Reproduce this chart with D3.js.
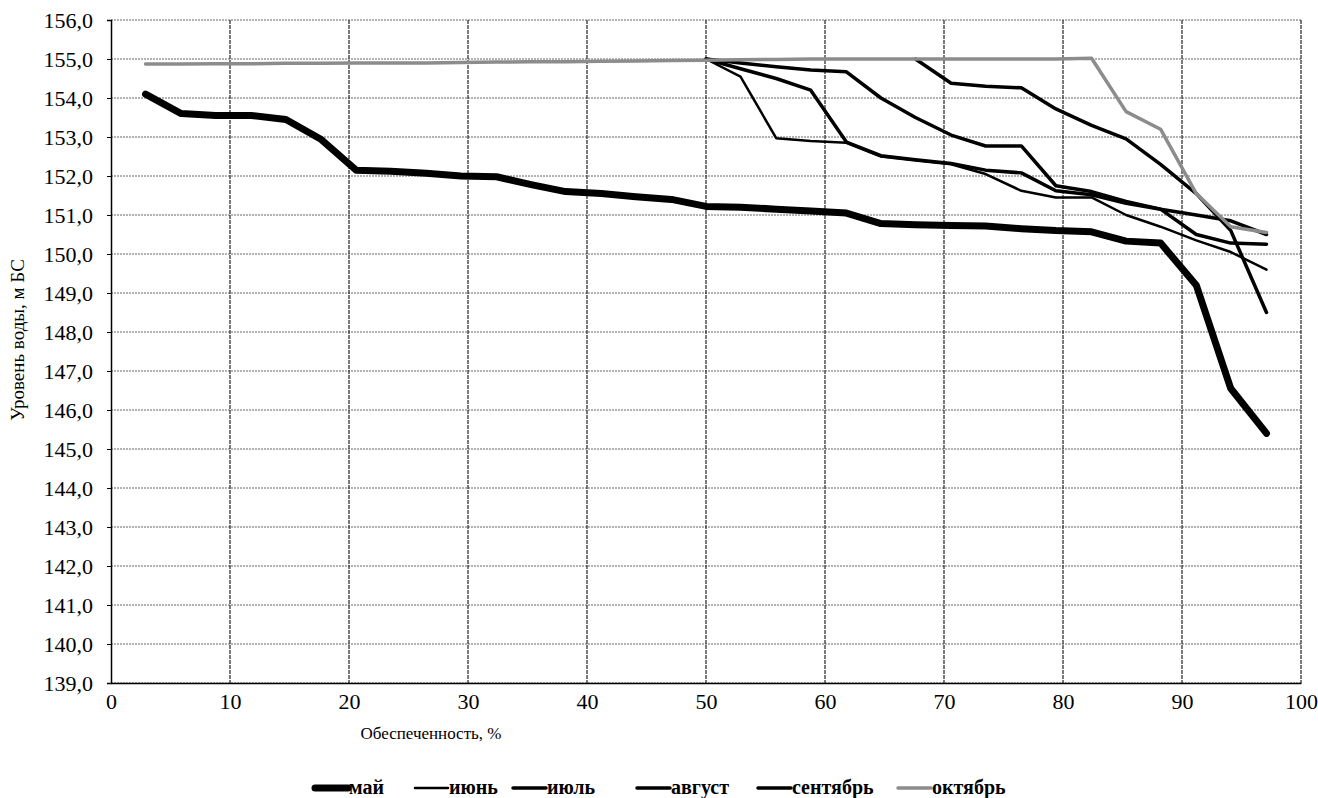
<!DOCTYPE html>
<html>
<head>
<meta charset="utf-8">
<script src="https://cdn.jsdelivr.net/npm/d3@7"></script>
<style>
  html, body { margin: 0; padding: 0; background: #fff; }
  svg { display: block; }
  svg text { font-family: "Liberation Serif", "Times New Roman", Times, serif; fill: #000; }
</style>
</head>
<body>
<div id="chart"></div>
<script>
// Обеспеченность, %
const probs = [2.9, 5.9, 8.8, 11.8, 14.7, 17.6, 20.6, 23.5, 26.5, 29.4, 32.4, 35.3, 38.2, 41.2, 44.1, 47.1,
  50.0, 52.9, 55.9, 58.8, 61.8, 64.7, 67.6, 70.6, 73.5, 76.5, 79.4, 82.4, 85.3, 88.2, 91.2, 94.1, 97.1];

const may = [154.1, 153.6, 153.55, 153.55, 153.45, 152.95, 152.15, 152.12, 152.07, 152.0, 151.98, 151.78, 151.6,
  151.55, 151.47, 151.4, 151.22, 151.2, 151.15, 151.1, 151.05, 150.78, 150.75, 150.73, 150.72, 150.65, 150.6,
  150.57, 150.33, 150.28, 149.2, 146.55, 145.4];

const june = [null, null, null, null, null, null, null, null, null, null, null, null, null, null, null, null,
  155.0, 154.55, 152.97, 152.9, 152.85, 152.5, 152.4, 152.3, 152.05, 151.62, 151.45, 151.45, 151.0, 150.7,
  150.35, 150.05, 149.6];

const july = [null, null, null, null, null, null, null, null, null, null, null, null, null, null, null, null,
  155.0, 154.75, 154.5, 154.2, 152.87, 152.52, 152.42, 152.32, 152.15, 152.08, 151.62, 151.52, 151.3, 151.15,
  150.5, 150.28, 150.25];

const august = [null, null, null, null, null, null, null, null, null, null, null, null, null, null, null, null,
  155.0, 154.9, 154.8, 154.72, 154.67, 154.0, 153.5, 153.05, 152.77, 152.77, 151.75, 151.6, 151.35, 151.15,
  151.0, 150.85, 150.5];

const september = [null, null, null, null, null, null, null, null, null, null, null, null, null, null, null, null,
  null, null, null, null, null, null, 155.0, 154.38, 154.3, 154.26, 153.72, 153.3, 152.95, 152.3, 151.55,
  150.6, 148.5];

const october = [154.87, 154.87, 154.88, 154.88, 154.89, 154.89, 154.9, 154.9, 154.9, 154.91, 154.92, 154.93,
  154.93, 154.94, 154.95, 154.96, 154.97, 154.98, 154.99, 155.0, 155.0, 155.0, 155.0, 155.0, 155.0, 155.0,
  155.0, 155.02, 153.65, 153.2, 151.55, 150.7, 150.55];

const xTicks = [0, 10, 20, 30, 40, 50, 60, 70, 80, 90, 100];
const yTicks = d3.range(139, 157);

const seriesNames = ["май", "июнь", "июль", "август", "сентябрь", "октябрь"];

const series = [
  { name: seriesNames[0], values: may, color: "#000", width: 7 },
  { name: seriesNames[1], values: june, color: "#000", width: 2.5 },
  { name: seriesNames[2], values: july, color: "#000", width: 3.5 },
  { name: seriesNames[3], values: august, color: "#000", width: 3.5 },
  { name: seriesNames[4], values: september, color: "#000", width: 3.5 },
  { name: seriesNames[5], values: october, color: "#8c8c8c", width: 3.5 }
];

const width = 1318;
const height = 798;
const margin = { top: 20, right: 17, bottom: 115, left: 111 };
const innerWidth = width - margin.left - margin.right;
const innerHeight = height - margin.top - margin.bottom;

const svg = d3.select("#chart")
  .append("svg")
  .attr("width", width)
  .attr("height", height);

const g = svg.append("g")
  .attr("transform", `translate(${margin.left},${margin.top})`);

const xScale = d3.scaleLinear().domain([0, 100]).range([0, innerWidth]);
const yScale = d3.scaleLinear().domain([139, 156]).range([innerHeight, 0]);

// Grid
g.append("g")
  .selectAll("line")
  .data(yTicks)
  .join("line")
  .attr("x1", 0)
  .attr("x2", innerWidth)
  .attr("y1", d => yScale(d))
  .attr("y2", d => yScale(d))
  .attr("stroke", "#666")
  .attr("stroke-width", 1)
  .attr("stroke-dasharray", "2,1");

g.append("g")
  .selectAll("line")
  .data(xTicks.slice(1))
  .join("line")
  .attr("x1", d => xScale(d))
  .attr("x2", d => xScale(d))
  .attr("y1", 0)
  .attr("y2", innerHeight)
  .attr("stroke", "#222")
  .attr("stroke-width", 1.2)
  .attr("stroke-dasharray", "4,1");

// Axes
const yAxis = d3.axisLeft(yScale)
  .tickValues(yTicks)
  .tickSize(4)
  .tickFormat(d => d3.format(".1f")(d).replace(".", ","));

g.append("g")
  .call(yAxis)
  .attr("font-family", null)
  .attr("font-size", null)
  .call(ax => ax.select(".domain").attr("stroke", "#000").attr("stroke-width", 1.5))
  .call(ax => ax.selectAll(".tick line").attr("stroke", "#000"))
  .selectAll("text")
  .attr("x", -18)
  .style("font-size", "22px");

const xAxis = d3.axisBottom(xScale)
  .tickValues(xTicks)
  .tickSize(0)
  .tickFormat(d3.format("d"));

g.append("g")
  .attr("transform", `translate(0,${innerHeight})`)
  .call(xAxis)
  .attr("font-family", null)
  .attr("font-size", null)
  .call(ax => ax.select(".domain").attr("stroke", "#000").attr("stroke-width", 1.5))
  .selectAll("text")
  .attr("y", 6)
  .attr("dy", "0.9em")
  .style("font-size", "22px");

// Axis titles
svg.append("text")
  .attr("x", 431)
  .attr("y", 739)
  .attr("text-anchor", "middle")
  .style("font-size", "17px")
  .text("Обеспеченность, %");

svg.append("text")
  .attr("transform", `translate(24,340) rotate(-90)`)
  .attr("text-anchor", "middle")
  .style("font-size", "19px")
  .text("Уровень воды, м БС");

// Lines
const line = d3.line()
  .defined(d => d[1] != null)
  .x(d => xScale(d[0]))
  .y(d => yScale(d[1]));

const drawOrder = [1, 2, 3, 4, 5, 0];
drawOrder.forEach(i => {
  const s = series[i];
  g.append("path")
    .datum(probs.map((p, j) => [p, s.values[j]]))
    .attr("fill", "none")
    .attr("stroke", s.color)
    .attr("stroke-width", s.width)
    .attr("stroke-linejoin", "round")
    .attr("stroke-linecap", "round")
    .attr("d", line);
});

// Legend
const legendX = [315, 415, 513, 637, 758, 898];
const legend = svg.append("g")
  .attr("transform", "translate(0,794)");

series.forEach((s, i) => {
  legend.append("line")
    .attr("x1", legendX[i])
    .attr("x2", legendX[i] + 33)
    .attr("y1", -6)
    .attr("y2", -6)
    .attr("stroke", s.color)
    .attr("stroke-width", s.width)
    .attr("stroke-linecap", "round");
  legend.append("text")
    .attr("x", legendX[i] + 34)
    .attr("y", 0)
    .style("font-size", "20px")
    .style("font-weight", "bold")
    .text(s.name);
});
</script>
</body>
</html>
